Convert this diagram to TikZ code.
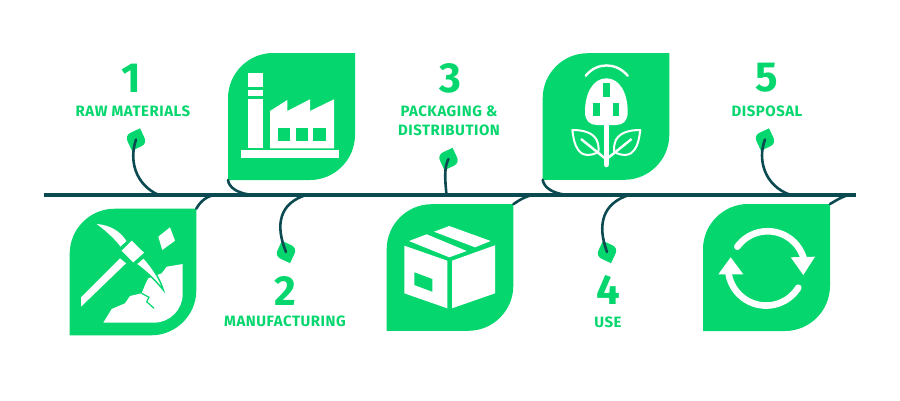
\documentclass[tikz,border=0pt]{standalone}
\usepackage{fontspec}
\setmainfont{Fira Sans}[LetterSpace=3.5]
\definecolor{leafgreen}{RGB}{5,214,109}
\definecolor{stemdark}{RGB}{11,74,80}
\tikzset{
 leaf/.pic={
  \fill[leafgreen] (1,-1) -- (-.29,-1) .. controls (-.68,-1) and (-1,-.68) .. (-1,-.29)
    -- (-1,1) -- (.29,1) .. controls (.68,1) and (1,.68) .. (1,.29) -- cycle;
  \coordinate (-ne) at (1,-1);
  \coordinate (-sw) at (-1,1);
  \coordinate (-mid) at (0,0);
 },
 stemstyle/.style={stemdark,line width=2.6pt,line cap=round},
 mainstyle/.style={stemdark,line width=4pt},
 numstyle/.style={text=leafgreen,font=\fontsize{42}{42}\selectfont\bfseries,inner sep=0pt},
 labelstyle/.style={text=leafgreen,font=\fontsize{15}{18.5}\selectfont\bfseries,inner sep=0pt,align=center},
 iconline/.style={draw=white,line width=2.4pt,line cap=round},
 iconfill/.style={fill=white},
 holefill/.style={fill=leafgreen}
}
\begin{document}
\begin{tikzpicture}[x=1pt,y=-1pt]
\useasboundingbox (0,0) rectangle (900,400);
%% big leaves
\pic[scale=63.3] (rawleaf) at (133,272) {leaf};
\pic[scale=63.5] (factoryleaf) at (291.5,116.5) {leaf};
\pic[scale=63.3] (boxleaf) at (450,267.5) {leaf};
\pic[scale=63.3] (plugleaf) at (606,116.5) {leaf};
\pic[scale=63.5] (cycleleaf) at (766.5,267.5) {leaf};
%% small leaves
\pic[scale=8.4,rotate=25] (rawsprout) at (136,139.5) {leaf};
\pic[scale=8.4,rotate=65] (factorysprout) at (286,252) {leaf};
\pic[scale=8.4,rotate=25] (boxsprout) at (448.5,159) {leaf};
\pic[scale=8.4,rotate=65] (plugsprout) at (607,252) {leaf};
\pic[scale=8.4,rotate=25] (cyclesprout) at (765,139.5) {leaf};
%% main line and joints
\coordinate (linestart) at (43.5,194.7);
\coordinate (lineend) at (856,194.7);
\coordinate (rawjoin) at (158,194.7);
\coordinate (pickjoin) at (216,194.7);
\coordinate (factoryjoin) at (250,194.7);
\coordinate (manujoin) at (307,194.7);
\coordinate (boxjoin) at (446.5,194.7);
\coordinate (packjoin) at (535,194.7);
\coordinate (plugjoin) at (565,194.7);
\coordinate (usejoin) at (630,194.7);
\coordinate (cyclejoin) at (790,194.7);
\coordinate (recyclejoin) at (850,194.7);
\draw[mainstyle] (linestart) -- (lineend);
%% stems
\draw[stemstyle] (rawsprout-mid) .. controls (129,160) and (135,184) .. (rawjoin);
\draw[stemstyle] (factoryleaf-sw) .. controls (229,188) and (238,193) .. (factoryjoin);
\draw[stemstyle] (rawleaf-ne) .. controls (200,202) and (206,196) .. (pickjoin);
\draw[stemstyle] (factorysprout-mid) .. controls (275,225) and (279,203) .. (manujoin);
\draw[stemstyle] (boxsprout-mid) .. controls (444,167) and (445,180) .. (boxjoin);
\draw[stemstyle] (plugleaf-sw) .. controls (544,188) and (553,193) .. (plugjoin);
\draw[stemstyle] (boxleaf-ne) .. controls (517,202) and (524,196) .. (packjoin);
\draw[stemstyle] (plugsprout-mid) .. controls (597,225) and (602,203) .. (usejoin);
\draw[stemstyle] (cyclesprout-mid) .. controls (757,160) and (765,186) .. (cyclejoin);
\draw[stemstyle] (cycleleaf-ne) .. controls (834,202) and (840,197) .. (recyclejoin);
%% labels
\node[numstyle] (rawnum) at (131.7,78) {1};
\node[labelstyle] (rawlabel) at (133,111.7) {RAW MATERIALS};
\node[numstyle] (manunum) at (285.7,291) {2};
\node[labelstyle] (manulabel) at (285,321.7) {MANUFACTURING};
\node[numstyle] (packnum) at (450,78) {3};
\node[labelstyle] (packlabel) at (449,121) {PACKAGING \&\\DISTRIBUTION};
\node[numstyle] (usenum) at (608,290) {4};
\node[labelstyle] (uselabel) at (608,322.7) {USE};
\node[numstyle] (disposalnum) at (766.7,78) {5};
\node[labelstyle] (disposallabel) at (767,111.7) {DISPOSAL};
%% pick icon
\fill[iconfill] (103.3,322.7) -- (111.7,309) -- (125,303.3) -- (130,296) -- (141.7,293.3) -- (145,285)
  -- (148.3,278.3) -- (161.7,273.3) -- (166.7,266.7) -- (182.7,264) -- (182.7,293.3)
  .. controls (182.7,310) and (170,322.7) .. (153.3,322.7) -- cycle;
\draw[leafgreen,line width=1.2pt] (141.7,293.3) -- (149,297.3) -- (146.7,301.7) -- (154,308.3);
\fill[iconfill,draw=leafgreen,line width=1.4pt] (143.5,257.5) .. controls (153,268) and (160,279) .. (163.3,290)
  .. controls (156,281) and (147,272) .. (136,264) -- cycle;
\fill[iconfill] (120,258.3) -- (126,263.3) -- (81,306.7) -- (81,297.3) -- cycle;
\fill[iconfill] (131.7,240.7) -- (144,252.7) -- (133.3,262.3) -- (121.7,250.7) -- cycle;
\fill[iconfill] (96.7,224) .. controls (110,225) and (120,231) .. (126.5,241) -- (120.5,246.5)
  .. controls (114,238) and (106,231) .. (96.7,224) -- cycle;
\fill[iconfill] (170,227.3) -- (175,240.7) -- (162.3,250) -- (158.3,236.7) -- cycle;
%% factory icon
\fill[iconfill] (248.3,73.3) rectangle (262.7,86.7);
\fill[iconfill] (248.3,90) rectangle (262.7,96);
\fill[iconfill] (248.3,99.3) rectangle (262.7,148.3);
\fill[iconfill] (241,150) rectangle (339,157.7);
\fill[iconfill] (270,148.3) -- (270,111) -- (287.3,100) -- (287.3,111) -- (310,99.3) -- (310,111)
  -- (334,99.3) -- (334,148.3) -- cycle;
\fill[holefill] (278.3,128.3) rectangle (290,140.7);
\fill[holefill] (296,128.3) rectangle (307.7,140.7);
\fill[holefill] (313.3,128.3) rectangle (325.7,140.7);
%% box icon
\fill[iconfill] (404.3,245.7) -- (447.3,260.7) -- (447.3,308.3) -- (404.3,293.3) -- cycle;
\fill[iconfill] (452,260.7) -- (495,245.3) -- (495,293.3) -- (452,308.3) -- cycle;
\fill[iconfill] (409,241) -- (426.7,234.3) -- (466.7,251) -- (449.3,257.3) -- cycle;
\fill[iconfill] (434,231.7) -- (449.3,226) -- (490.7,241) -- (475,247.3) -- cycle;
\fill[holefill] (414.3,272.3) -- (432.3,279) -- (432.3,291.7) -- (414.3,285) -- cycle;
%% plug icon
\draw[iconline] (585.7,75.7) .. controls (597,62) and (616,62) .. (627.7,75.7);
\fill[iconfill] (585,112) .. controls (585,93) and (593,78.3) .. (606.4,78.3)
  .. controls (619.7,78.3) and (627.7,93) .. (627.7,112)
  .. controls (627.7,121) and (623,125) .. (616,125) -- (597,125)
  .. controls (590,125) and (585,121) .. (585,112) -- cycle;
\fill[holefill] (603.3,83.3) rectangle (610,96.7);
\fill[holefill] (593.3,103.3) rectangle (600,116);
\fill[holefill] (612.7,103.3) rectangle (619.3,116);
\draw[white,line width=5.6pt,line cap=round] (606.3,125) -- (606.3,164.5);
\foreach \side in {1,-1}{
 \begin{scope}[shift={(606.3,0)},xscale=\side]
 \draw[iconline,line width=2pt,line join=round] (-34,130) .. controls (-24,130) and (-14,132) .. (-9.6,140)
   .. controls (-7.5,145) and (-7.5,149) .. (-8,152)
   .. controls (-17,157) and (-25,155) .. (-28,150) .. controls (-32,145) and (-33,137) .. (-34,130) -- cycle;
 \draw[iconline,line cap=butt] (-25.3,139) -- (-1.3,158.3);
 \end{scope}
}
%% cycle icon
\draw[white,line width=6.6pt,line cap=round] (737.3,246.7) arc[start angle=-144,end angle=-17,radius=37.5];
\fill[iconfill] (790.7,257.3) -- (815,256.7) -- (803.3,275) -- cycle;
\draw[white,line width=6.6pt,line cap=round] (798.3,287.7) arc[start angle=32,end angle=170,radius=38];
\fill[iconfill] (718.3,274.3) -- (743.3,274.3) -- (730.7,257.3) -- cycle;
\end{tikzpicture}
\end{document}
